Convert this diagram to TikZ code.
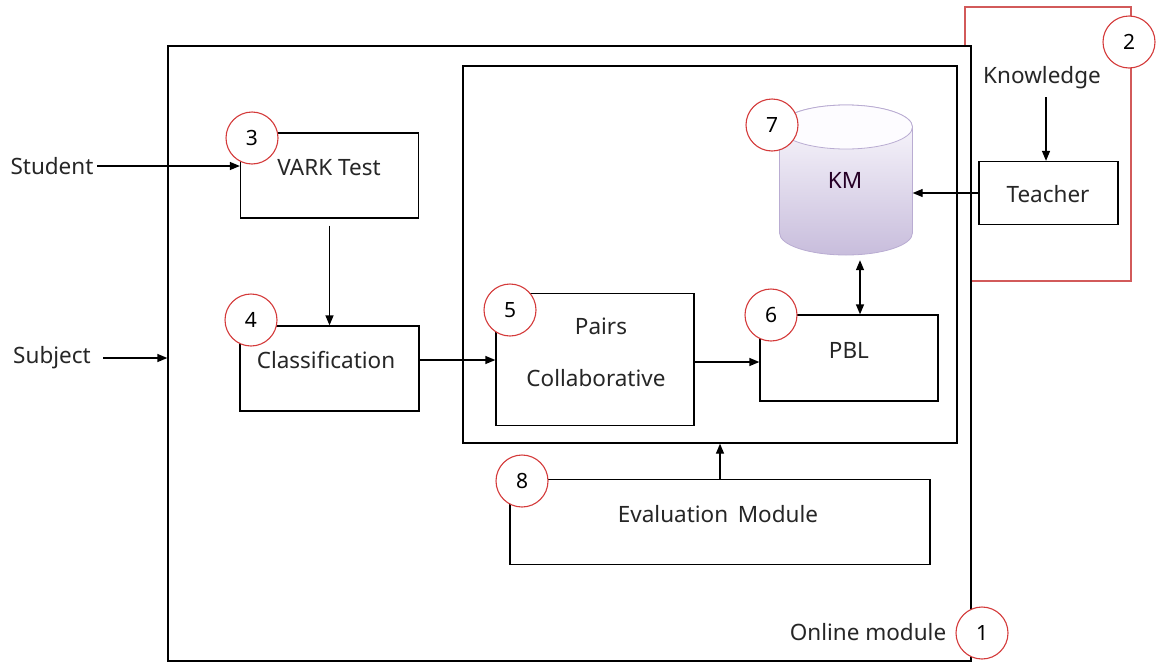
\documentclass[tikz,border=0pt]{standalone}
\usepackage{fontspec}
\setmainfont{Noto Sans}
\usetikzlibrary{arrows.meta}
\definecolor{numred}{RGB}{212,58,58}
\definecolor{framered}{RGB}{210,90,90}
\definecolor{kmtop}{RGB}{253,252,255}
\definecolor{kmbot}{RGB}{200,189,220}
\definecolor{kmline}{RGB}{185,172,210}
\begin{document}
\begin{tikzpicture}[x=1pt,y=-1pt,
  box/.style={draw, line width=1.3pt, rectangle, inner sep=0pt},
  num/.style={circle, draw=numred, fill=white, minimum size=52pt, inner sep=0pt, line width=1.1pt, font=\fontsize{21}{22}\selectfont},
  arr/.style={-{Triangle[length=10pt,width=8pt]}, line width=1.3pt},
  darr/.style={{Triangle[length=10pt,width=8pt]}-{Triangle[length=10pt,width=8pt]}, line width=1.3pt},
  lbl/.style={font=\fontsize{22.5}{26}\selectfont, inner sep=0pt, text=black!85}]
\useasboundingbox (0,0) rectangle (1161,664);
% frames
\node[box, minimum width=803pt, minimum height=615pt] (outer) at (569.5,353.5) {};
\node[box, minimum width=494pt, minimum height=377pt] (inner) at (710,254.5) {};
\coordinate (rA) at (965,7);
\coordinate (rB) at (1131,281);
\draw[framered, line width=1.1pt] (outer.east |- rB) -- (rB) -- (rB |- rA) -- (rA) -- (rA |- outer.north);
% boxes
\node[box, minimum width=139pt, minimum height=63pt] (teacher) at (1048.5,193) {};
\node[box, minimum width=178pt, minimum height=85pt] (vark) at (329.5,175.5) {};
\node[box, minimum width=179pt, minimum height=85pt] (class) at (329.5,368.5) {};
\node[box, minimum width=198pt, minimum height=132pt] (pairs) at (595,359.5) {};
\node[box, minimum width=178pt, minimum height=86pt] (pbl) at (849,358) {};
\node[box, minimum width=420pt, minimum height=85pt] (eval) at (720,522) {};
% KM cylinder
\shade[top color=kmtop, bottom color=kmbot, draw=kmline, line width=0.8pt]
  (779.5,127) -- (779.5,233) arc[start angle=180, end angle=360, x radius=66.5pt, y radius=22pt]
  -- (912.5,127) arc[start angle=0, end angle=180, x radius=66.5pt, y radius=22pt] -- cycle;
\draw[kmline, fill=kmtop, line width=0.8pt] (846,127) ellipse [x radius=66.5pt, y radius=22pt];
\node[minimum width=133pt, minimum height=153pt, inner sep=0pt] (km) at (846,180.5) {};
% texts
\node[lbl] (teachert) at (1048,194) {Teacher};
\node[lbl] (knowt) at (1042,78) {Knowledge};
\node[lbl] (varkt) at (329,168) {VARK Test};
\node[lbl] (classt) at (326,360) {Classification};
\node[lbl] (pairst) at (601,326) {Pairs};
\node[lbl] (collt) at (596,378) {Collaborative};
\node[lbl] (pblt) at (849,350) {PBL};
\node[lbl] (evalt) at (718,514) {Evaluation\, Module};
\node[lbl, text=black!70!violet] (kmt) at (845,180) {KM};
\node[lbl] (studt) at (52,166) {Student};
\node[lbl] (subjt) at (52,358) {Subject};
\node[lbl] (onlt) at (868,632) {Online module};
% connectors
\coordinate (st) at (97,166);
\draw[arr] (st) -- (st -| vark.west);
\coordinate (sj) at (103,358);
\draw[arr] (sj) -- (sj -| outer.west);
\draw[arr, shorten <=7pt] (vark.south) -- (class.north);
\draw[arr] ([yshift=8.5pt]class.east) -- ([yshift=8.5pt]class.east -| pairs.west);
\draw[arr] ([yshift=-2.5pt]pairs.east) -- ([yshift=-2.5pt]pairs.east -| pbl.west);
\coordinate (kmx) at (860,0);
\draw[darr, shorten <=3pt] (kmx |- km.south) -- (kmx |- pbl.north);
\draw[arr] (teacher.west) -- (teacher.west -| km.east);
\coordinate (kn) at (1046,97);
\draw[arr] (kn) -- (kn |- teacher.north);
\draw[arr] (eval.north) -- (eval.north |- inner.south);
% number circles
\node[num] (n1) at (982,633) {1};
\node[num] (n2) at (1129,42) {2};
\node[num] (n3) at (252,138) {3};
\node[num] (n4) at (251,320) {4};
\node[num] (n5) at (510,310) {5};
\node[num] (n6) at (771,315) {6};
\node[num] (n7) at (772,125) {7};
\node[num] (n8) at (522,481) {8};
\end{tikzpicture}
\end{document}
